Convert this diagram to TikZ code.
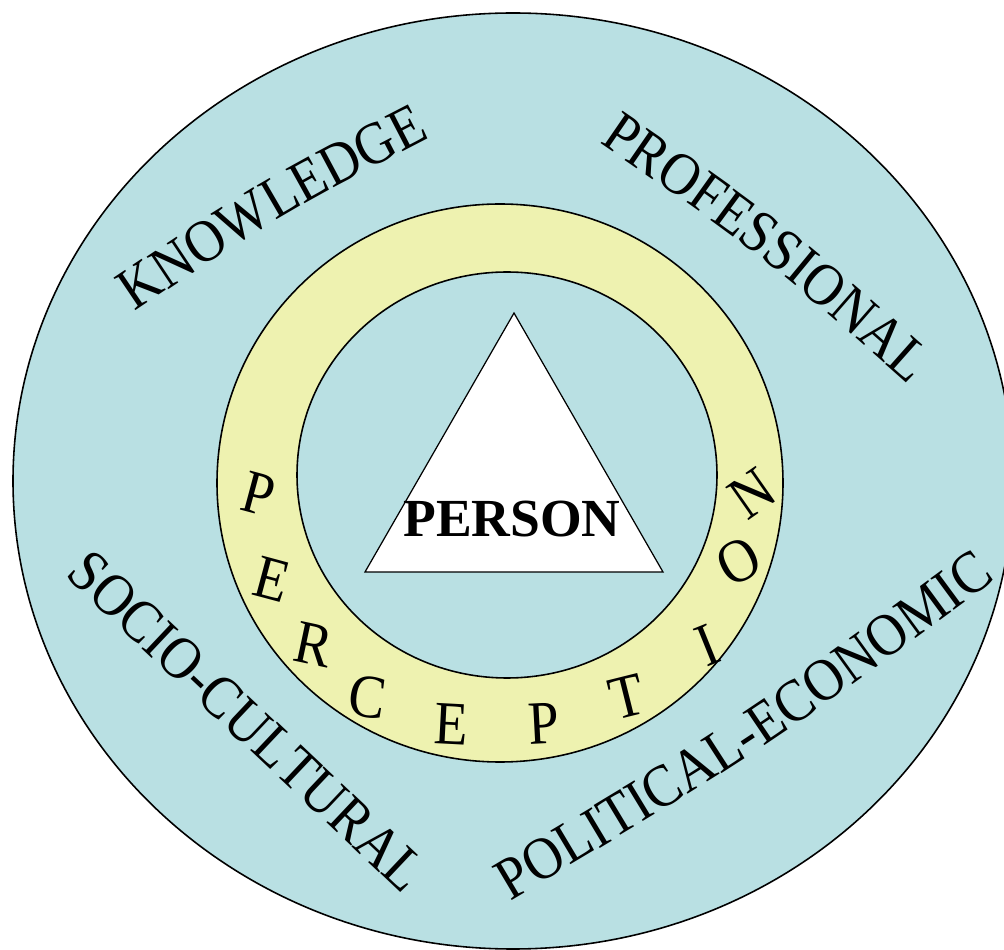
\documentclass[tikz,border=0pt]{standalone}
\usepackage{fontspec}
\setmainfont{Liberation Serif}
\newfontfamily\tallserif[FakeStretch=0.9]{Liberation Serif}
\usetikzlibrary{decorations.text}

\definecolor{ringblue}{RGB}{185,224,227}
\definecolor{ringyellow}{RGB}{238,242,176}

\tikzset{
  rim/.style={draw=black, line width=0.9pt},
  bandtext/.style={decorate, decoration={text along path, text align=center,
      text={|\tallserif\fontsize{34}{35}\selectfont|#1}}},
  letter/.style={font=\tallserif\fontsize{35}{36}\selectfont, inner sep=0pt}
}

\begin{document}
\begin{tikzpicture}[x=0.2mm, y=-0.2mm]

\useasboundingbox (0,0) rectangle (1004,950);
\clip (0,0) rectangle (1004,950);

% outer field
\fill[ringblue] (513,481) ellipse [x radius=500, y radius=468];
\draw[rim] (513,481) ellipse [x radius=500, y radius=468];

% perception band
\draw[rim, fill=ringyellow] (500,483) ellipse [x radius=283, y radius=279];
\draw[rim, fill=ringblue] (507,475) ellipse [x radius=210, y radius=203];

% the person
\draw[rim, line width=0.7pt, fill=white] (514,313) -- (663,572) -- (365,572) -- cycle;
\node[anchor=base, inner sep=0pt, font=\fontsize{30.5}{31}\selectfont\bfseries] (person) at (512,537) {PERSON};

% outer labels
\path[bandtext=KNOWLEDGE] (95,339) .. controls (277,216) .. (473,115);
\path[bandtext=PROFESSIONAL] (562,117) .. controls (762,254) .. (943,415);
\path[bandtext=SOCIO-CULTURAL] (27,540) -- (441,931);
\path[bandtext=POLITICAL-ECONOMIC] (484,917) .. controls (762,752) .. (1021,561);

% letters around the band
\node[letter, rotate=-15] (p1) at (259,494) {P};
\node[letter, rotate=-15] (e1) at (272,579) {E};
\node[letter, rotate=-12] (r1) at (314,645) {R};
\node[letter, rotate=-8] (c1) at (368,697) {C};
\node[letter, rotate=-3] (e2) at (451,724) {E};
\node[letter, rotate=3] (p2) at (544,724) {P};
\node[letter, rotate=14] (t1) at (627,697) {T};
\node[letter, rotate=22] (i1) at (707,645) {I};
\node[letter, rotate=28] (o1) at (739,561) {O};
\node[letter, rotate=35] (n1) at (752,494) {N};

\end{tikzpicture}
\end{document}
